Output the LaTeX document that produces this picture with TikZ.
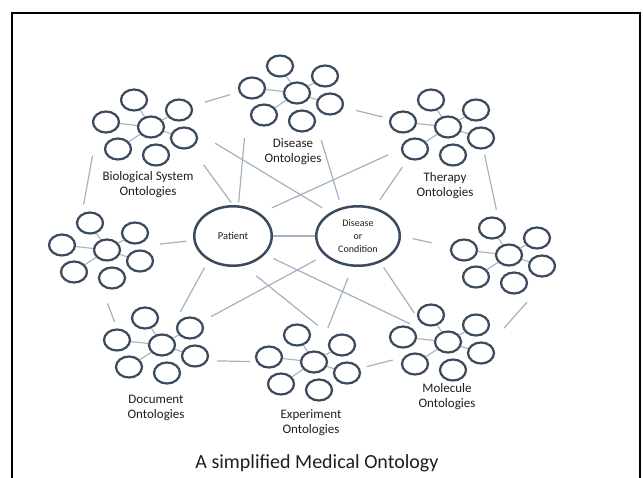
\documentclass[tikz,border=0pt]{standalone}
\usepackage{fontspec}
\setmainfont{Carlito}
\usetikzlibrary{shapes.geometric,backgrounds}
\definecolor{ringc}{HTML}{3B4A5E}
\definecolor{connc}{HTML}{A3B1C0}
\definecolor{txtc}{HTML}{1E1E1E}
\tikzset{
  ring/.style={ellipse, draw=ringc, line width=2.2pt, fill=white,
    minimum width=26pt, minimum height=21pt, inner sep=0pt},
  bigell/.style={ellipse, draw=ringc, line width=2.5pt, fill=white,
    minimum height=59.5pt, inner sep=0pt, text=txtc, align=center,
    font=\fontsize{10}{13}\selectfont},
  innerln/.style={draw=connc, line width=1.1pt},
  conn/.style={draw=connc, line width=1.2pt},
  ontlabel/.style={align=center, text=txtc, inner sep=0pt,
    font=\fontsize{13}{15}\selectfont},
}
\newcommand\ontcluster[3]{%
  \begin{scope}[shift={(#2,#3)}]
    \node[ring] (#1-c) at (0,0) {};
    \node[ring] (#1-t) at (-17,-27) {};
    \node[ring] (#1-ur) at (28,-17) {};
    \node[ring] (#1-l) at (-45,-5) {};
    \node[ring] (#1-r) at (33,11) {};
    \node[ring] (#1-ll) at (-33,22) {};
    \node[ring] (#1-b) at (5,28) {};
    \draw[innerln] (#1-c) -- (#1-t);
    \draw[innerln] (#1-c) -- (#1-ur);
    \draw[innerln] (#1-c) -- (#1-l);
    \draw[innerln] (#1-c) -- (#1-r);
    \draw[innerln] (#1-c) -- (#1-ll);
  \end{scope}}
\begin{document}
\begin{tikzpicture}[x=1pt, y=-1pt]
  \useasboundingbox (0,0) rectangle (643,477);
  % frame
  \draw[line width=2pt, black] (12,478) -- (12,12.5) -- (639.5,12.5) -- (639.5,478);

  % clusters
  \ontcluster{bio}{151}{127}
  \ontcluster{dis}{297}{93}
  \ontcluster{th}{448}{127}
  \ontcluster{rc}{509}{255}
  \ontcluster{lc}{107}{250}
  \ontcluster{doc}{162}{345}
  \ontcluster{ex}{314}{362}
  \ontcluster{mo}{448}{342}

  % central ellipses
  \node[bigell, minimum width=77.5pt, font=\fontsize{10.5}{13}\selectfont] (pat) at (233,236) {Patient};
  \node[bigell, minimum width=83.5pt] (disc) at (358,236) {Disease\\or\\Condition};

  % labels
  \node[ontlabel] (lbl-bio) at (148,185) {Biological System\\Ontologies};
  \node[ontlabel] (lbl-dis) at (293,152) {Disease\\Ontologies};
  \node[ontlabel] (lbl-th) at (445,186) {Therapy\\Ontologies};
  \node[ontlabel] (lbl-doc) at (156,408) {Document\\Ontologies};
  \node[ontlabel] (lbl-ex) at (311,423) {Experiment\\Ontologies};
  \node[ontlabel] (lbl-mo) at (447,397) {Molecule\\Ontologies};

  \node[anchor=base, text=txtc, inner sep=0pt, font=\fontsize{20}{24}\selectfont] (title) at (317,468) {A simplified Medical Ontology};

  % connectors
  \begin{pgfonlayer}{background}
    \draw[conn, shorten <=27pt, shorten >=23pt] (bio-ur.center) -- (dis-l.center);
    \draw[conn, shorten <=27pt, shorten >=21pt] (dis-r.center) -- (th-l.center);
    \draw[conn, shorten <=17pt, shorten >=8pt] (th-r.center) -- (rc-t.60);
    \draw[conn, shorten <=36pt, shorten >=21pt] (rc-r.-45) -- (mo-r.45);
    \draw[conn, shorten <=11pt, shorten >=7pt] (mo-ll.150) -- (ex-r.20);
    \draw[conn, shorten <=9pt, shorten >=6pt] (doc-r.-20) -- (ex-l.-160);
    \draw[conn, shorten <=20pt, shorten >=7pt] (lc-b.-150) -- (doc-l.north);
    \draw[conn, shorten <=25pt, shorten >=9pt] (bio-l.-135) -- (lc-t.130);
    \draw[conn, shorten <=53pt, shorten >=47pt] (lc-c.center) -- (pat.center);
    \draw[conn] (pat) -- (disc);
    \draw[conn, shorten <=12pt, shorten >=33pt] (disc.east) -- (rc-l.center);
    \draw[conn, shorten <=33pt, shorten >=3pt] (bio-r.center) -- (pat.north);
    \draw[conn, shorten <=23pt, shorten >=9pt] (bio-r.30) -- (disc.140);
    \draw[conn, shorten <=39pt, shorten >=3pt] (dis-l.-110) -- (pat.80);
    \draw[conn, shorten <=27pt, shorten >=8pt] (dis-b.30) -- (disc.120);
    \draw[conn, shorten <=14pt, shorten >=13pt] (th-ll.west) -- (pat.40);
    \draw[conn, shorten <=22pt, shorten >=9pt] (th-ll.center) -- (disc.60);
    \draw[conn, shorten <=8pt, shorten >=38pt] (pat.-135) -- (doc-c.center);
    \draw[conn, shorten <=16pt, shorten >=31pt] (pat.-70) -- (ex-ur.center);
    \draw[conn, shorten <=9pt, shorten >=42pt] (pat.-30) -- (mo-c.center);
    \draw[conn, shorten <=10pt, shorten >=24pt] (disc.-150) -- (doc-ur.center);
    \draw[conn, shorten <=12pt, shorten >=37pt] (disc.-100) -- (ex-c.center);
    \draw[conn, shorten <=6pt, shorten >=35pt] (disc.-50) -- (mo-c.west);
  \end{pgfonlayer}
\end{tikzpicture}
\end{document}
